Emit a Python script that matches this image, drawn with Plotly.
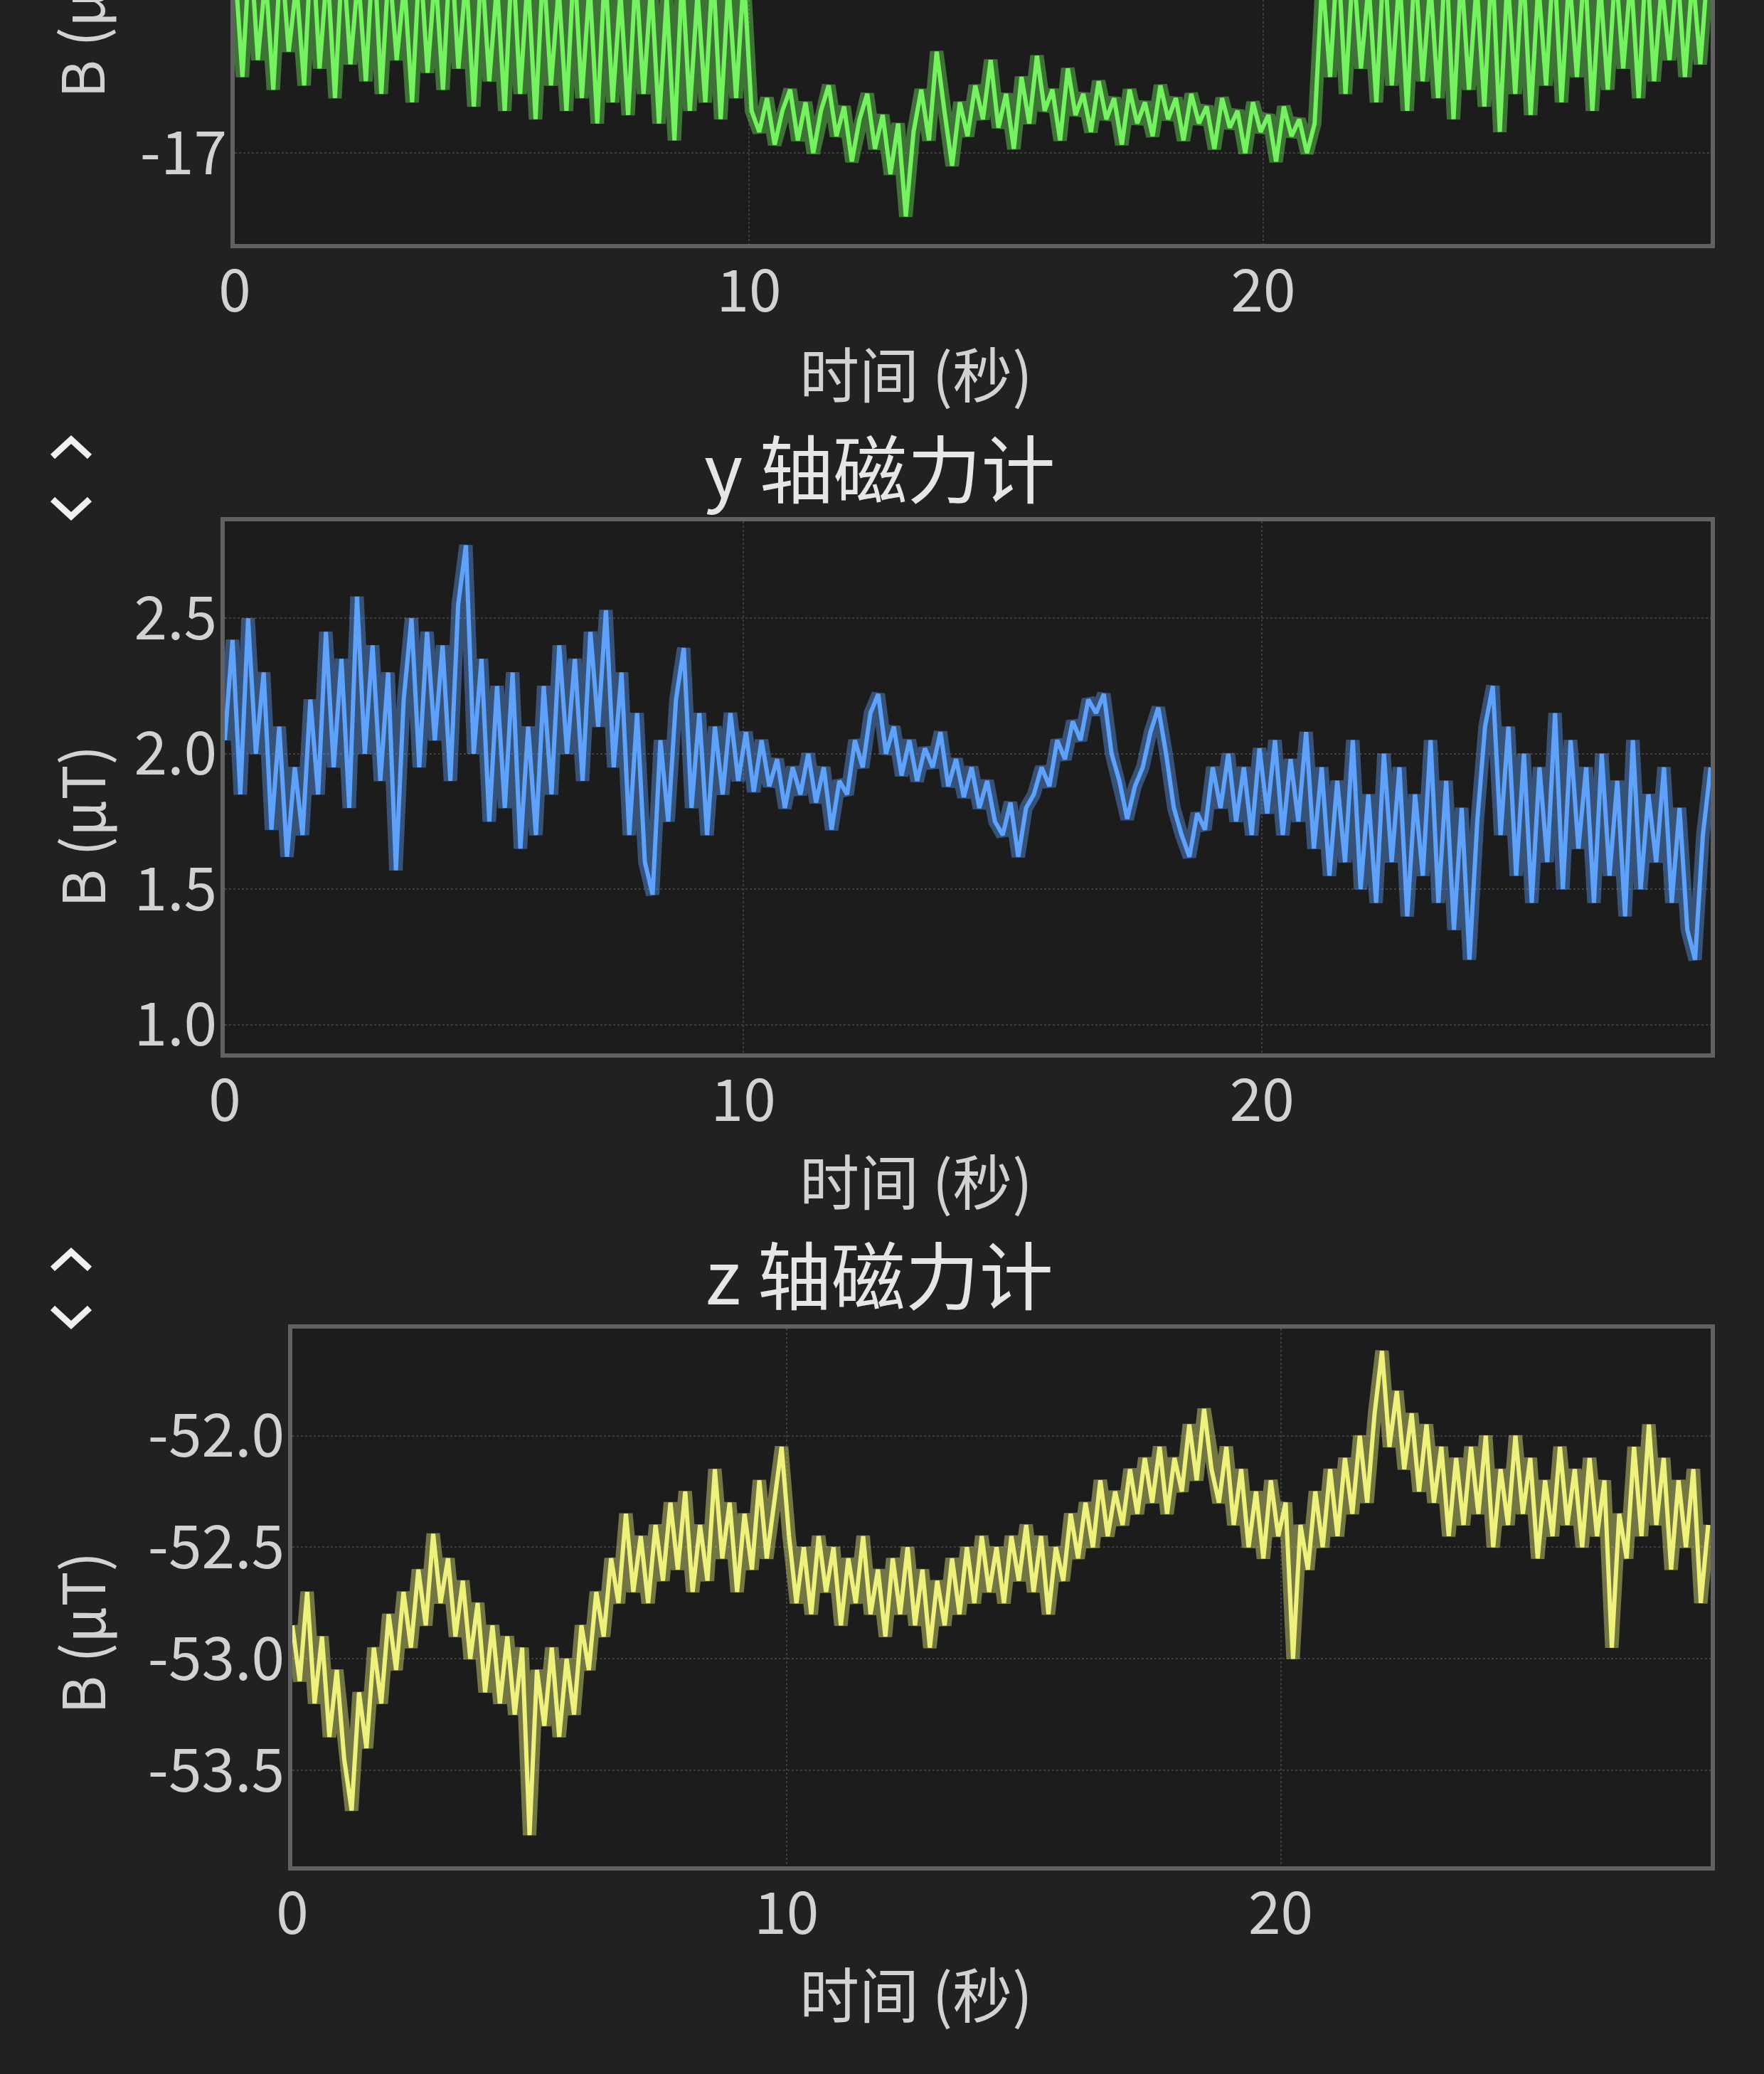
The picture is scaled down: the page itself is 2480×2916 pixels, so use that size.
import plotly.graph_objects as go

# ---------------- data ----------------
SAMPLE_INTERVAL = 0.15  # seconds between samples
N = 192
time_s = [round(i * SAMPLE_INTERVAL, 2) for i in range(N)]

bx_uT = [
    -16.55, -16.82, -16.50, -16.78, -16.58, -16.85, -16.52, -16.76, -16.60, -16.84,
    -16.48, -16.80, -16.56, -16.87, -16.52, -16.79, -16.58, -16.83, -16.50, -16.86,
    -16.55, -16.78, -16.60, -16.88, -16.53, -16.81, -16.57, -16.85, -16.50, -16.80,
    -16.58, -16.89, -16.55, -16.83, -16.60, -16.90, -16.52, -16.86, -16.58, -16.92,
    -16.55, -16.84, -16.61, -16.90, -16.54, -16.87, -16.60, -16.93, -16.56, -16.88,
    -16.62, -16.91, -16.57, -16.86, -16.60, -16.93, -16.63, -16.97, -16.58, -16.90,
    -16.62, -16.88, -16.56, -16.92, -16.60, -16.87, -16.58, -16.90, -16.95, -16.87,
    -16.98, -16.90, -16.85, -16.97, -16.88, -17.00, -16.90, -16.84, -16.96, -16.89,
    -17.02, -16.92, -16.86, -16.99, -16.91, -17.05, -16.93, -17.15, -16.95, -16.85,
    -16.97, -16.76, -16.90, -17.03, -16.88, -16.96, -16.84, -16.92, -16.78, -16.94,
    -16.86, -16.99, -16.82, -16.93, -16.77, -16.90, -16.85, -16.97, -16.80, -16.91,
    -16.86, -16.95, -16.83, -16.92, -16.87, -16.98, -16.85, -16.93, -16.88, -16.96,
    -16.84, -16.92, -16.87, -16.97, -16.86, -16.93, -16.89, -16.99, -16.87, -16.94,
    -16.90, -17.00, -16.88, -16.95, -16.91, -17.02, -16.89, -16.96, -16.92, -17.00,
    -16.93, -16.58, -16.82, -16.52, -16.86, -16.55, -16.80, -16.60, -16.88, -16.53,
    -16.84, -16.58, -16.90, -16.55, -16.83, -16.60, -16.87, -16.52, -16.92, -16.57,
    -16.85, -16.60, -16.89, -16.54, -16.95, -16.58, -16.86, -16.55, -16.91, -16.60,
    -16.84, -16.53, -16.88, -16.58, -16.82, -16.55, -16.90, -16.60, -16.85, -16.56,
    -16.80, -16.58, -16.87, -16.53, -16.83, -16.60, -16.78, -16.56, -16.82, -16.58,
    -16.79, -16.55,
]

by_uT = [
    2.05, 2.42, 1.85, 2.50, 2.00, 2.30, 1.72, 2.10, 1.62, 1.95,
    1.70, 2.20, 1.85, 2.45, 1.95, 2.35, 1.80, 2.58, 2.00, 2.40,
    1.90, 2.30, 1.57, 2.20, 2.50, 1.95, 2.45, 2.05, 2.40, 1.90,
    2.55, 2.77, 2.00, 2.35, 1.75, 2.25, 1.80, 2.30, 1.65, 2.10,
    1.70, 2.25, 1.85, 2.40, 2.00, 2.35, 1.90, 2.45, 2.10, 2.53,
    1.95, 2.30, 1.70, 2.15, 1.60, 1.48, 2.05, 1.75, 2.20, 2.39,
    1.80, 2.15, 1.70, 2.10, 1.85, 2.15, 1.90, 2.08, 1.86, 2.05,
    1.88, 1.98, 1.80, 1.95, 1.85, 2.00, 1.82, 1.95, 1.72, 1.90,
    1.85, 2.05, 1.95, 2.15, 2.22, 2.00, 2.10, 1.92, 2.05, 1.90,
    2.02, 1.95, 2.08, 1.88, 1.98, 1.84, 1.95, 1.80, 1.90, 1.75,
    1.70, 1.82, 1.62, 1.80, 1.85, 1.95, 1.88, 2.05, 1.98, 2.12,
    2.05, 2.20, 2.15, 2.22, 2.00, 1.90, 1.76, 1.88, 1.95, 2.08,
    2.17, 2.00, 1.80, 1.70, 1.62, 1.78, 1.72, 1.95, 1.80, 2.00,
    1.75, 1.95, 1.70, 2.02, 1.78, 2.05, 1.70, 1.98, 1.75, 2.08,
    1.65, 1.95, 1.55, 1.90, 1.60, 2.05, 1.50, 1.85, 1.45, 2.00,
    1.60, 1.95, 1.40, 1.85, 1.55, 2.05, 1.45, 1.90, 1.35, 1.80,
    1.24, 1.75, 2.10, 2.25, 1.70, 2.10, 1.55, 2.00, 1.45, 1.95,
    1.60, 2.15, 1.50, 2.05, 1.65, 1.95, 1.45, 2.00, 1.55, 1.90,
    1.40, 2.05, 1.50, 1.85, 1.60, 1.95, 1.45, 1.80, 1.35, 1.24,
    1.70, 1.95,
]

bz_uT = [
    -52.85, -53.10, -52.70, -53.20, -52.90, -53.35, -53.05, -53.45, -53.68, -53.15,
    -53.40, -52.95, -53.20, -52.80, -53.05, -52.70, -52.95, -52.60, -52.85, -52.44,
    -52.75, -52.55, -52.90, -52.65, -53.00, -52.75, -53.15, -52.85, -53.20, -52.90,
    -53.25, -52.95, -53.79, -53.05, -53.30, -52.95, -53.35, -53.00, -53.25, -52.85,
    -53.05, -52.70, -52.90, -52.55, -52.75, -52.35, -52.70, -52.45, -52.75, -52.40,
    -52.65, -52.30, -52.60, -52.25, -52.70, -52.40, -52.65, -52.15, -52.55, -52.30,
    -52.70, -52.35, -52.60, -52.20, -52.55, -52.30, -52.05, -52.45, -52.75, -52.50,
    -52.80, -52.45, -52.70, -52.50, -52.85, -52.55, -52.75, -52.45, -52.80, -52.60,
    -52.90, -52.55, -52.80, -52.50, -52.85, -52.60, -52.95, -52.65, -52.85, -52.55,
    -52.80, -52.50, -52.75, -52.45, -52.70, -52.50, -52.75, -52.45, -52.65, -52.40,
    -52.70, -52.45, -52.80, -52.50, -52.65, -52.35, -52.55, -52.30, -52.50, -52.20,
    -52.45, -52.25, -52.40, -52.15, -52.35, -52.10, -52.30, -52.05, -52.35, -52.10,
    -52.25, -51.95, -52.20, -51.88, -52.15, -52.30, -52.05, -52.40, -52.15, -52.50,
    -52.25, -52.55, -52.20, -52.45, -52.30, -53.00, -52.40, -52.60, -52.25, -52.50,
    -52.15, -52.45, -52.10, -52.35, -52.00, -52.30, -51.90, -51.62, -52.05, -51.80,
    -52.15, -51.90, -52.25, -51.95, -52.30, -52.05, -52.45, -52.10, -52.40, -52.05,
    -52.35, -52.00, -52.50, -52.15, -52.40, -52.00, -52.35, -52.10, -52.55, -52.20,
    -52.45, -52.05, -52.40, -52.15, -52.50, -52.10, -52.45, -52.20, -52.95, -52.35,
    -52.55, -52.05, -52.45, -51.95, -52.40, -52.10, -52.60, -52.20, -52.50, -52.15,
    -52.75, -52.40,
]

panel_titles = ["y 轴磁力计", "z 轴磁力计"]   # the x panel's title is scrolled out of view
x_title = "时间 (秒)"
y_title = "B (µT)"
x_tick_vals = [0, 10, 20]
x_tick_text = ["0", "10", "20"]
y_tick_vals = [[-17.0], [1.0, 1.5, 2.0, 2.5], [-53.5, -53.0, -52.5, -52.0]]
y_tick_text = [["-17"], ["1.0", "1.5", "2.0", "2.5"], ["-53.5", "-53.0", "-52.5", "-52.0"]]

# ---------------- layout helpers ----------------
W, H = 2480, 2916


def px(x):
    return x / W


def py(y):
    return 1 - y / H


FONT = "Noto Sans CJK SC, Noto Sans, sans-serif"
BG = "#212121"
PLOT_BG = "#1c1c1c"
BORDER = "#616161"
GRID = "#3e3e3e"
TICK_COLOR = "#d2d2d2"
TEXT_COLOR = "#e6e6e6"
colors = ["#74f260", "#5ea2fb", "#eef27c"]
glow = ["rgba(110,235,90,0.42)", "rgba(90,158,250,0.42)", "rgba(236,240,120,0.42)"]

# plot rectangles in pixels: left, top, right, bottom
rects = [
    (330, 0, 2405, 343),
    (316, 733, 2405, 1481),
    (411, 1868, 2405, 2624),
]
x_ranges = [[0, 28.7], [0, 28.65], [0, 28.7]]
y_ranges = [[-17.215, -16.638], [0.894, 2.858], [-53.93, -51.52]]

fig = go.Figure()
series = [bx_uT, by_uT, bz_uT]
for k, vals in enumerate(series):
    suffix = "" if k == 0 else str(k + 1)
    fig.add_trace(go.Scatter(
        x=time_s, y=vals, mode="lines",
        line=dict(color=glow[k], width=19),
        xaxis="x" + suffix, yaxis="y" + suffix,
        showlegend=False, hoverinfo="skip",
    ))
    fig.add_trace(go.Scatter(
        x=time_s, y=vals, mode="lines",
        line=dict(color=colors[k], width=6),
        xaxis="x" + suffix, yaxis="y" + suffix,
        showlegend=False, hoverinfo="skip",
    ))

layout = dict(
    width=W, height=H,
    margin=dict(l=0, r=0, t=0, b=0, autoexpand=False),
    paper_bgcolor=BG, plot_bgcolor=PLOT_BG,
    font=dict(family=FONT, color=TICK_COLOR, size=82),
    showlegend=False,
)

for k, (l, t, r, b) in enumerate(rects):
    suffix = "" if k == 0 else str(k + 1)
    xa = dict(
        domain=[px(l), px(r)], range=x_ranges[k], anchor="y" + suffix,
        tickvals=x_tick_vals, ticktext=x_tick_text, automargin=False,
        showgrid=True, gridcolor=GRID, gridwidth=2,
        griddash="dot", zeroline=False, showline=True, linecolor=BORDER,
        linewidth=6, mirror=(k != 0), ticks="", ticklabelstandoff=-9,
        tickfont=dict(size=82, color=TICK_COLOR, family=FONT),
    )
    ya = dict(
        domain=[py(b), py(t)], range=y_ranges[k], anchor="x" + suffix,
        tickvals=y_tick_vals[k], ticktext=y_tick_text[k], automargin=False,
        showgrid=True, gridcolor=GRID, gridwidth=2,
        griddash="dot", zeroline=False, showline=True, linecolor=BORDER,
        linewidth=6, mirror=True, ticks="", ticklabelstandoff=-12,
        tickfont=dict(size=84, color=TICK_COLOR, family=FONT),
    )
    layout["xaxis" + suffix] = xa
    layout["yaxis" + suffix] = ya

annotations = []
title_pos = [(1236, 654), (1236, 1788)]
for k, (cx, cy) in enumerate(title_pos):
    annotations.append(dict(
        text=panel_titles[k], x=px(cx), y=py(cy), xref="paper", yref="paper",
        showarrow=False, xanchor="center", yanchor="middle",
        font=dict(size=104, color=TEXT_COLOR, family=FONT),
    ))
for cy in [522, 1658, 2800]:
    annotations.append(dict(
        text=x_title, x=px(1288), y=py(cy), xref="paper", yref="paper",
        showarrow=False, xanchor="center", yanchor="middle",
        font=dict(size=84, color=TICK_COLOR, family=FONT),
    ))
for cy in [24, 1162, 2296]:
    annotations.append(dict(
        text=y_title, x=px(112), y=py(cy), xref="paper", yref="paper",
        showarrow=False, xanchor="center", yanchor="middle", textangle=-90,
        font=dict(size=82, color=TICK_COLOR, family=FONT),
    ))
layout["annotations"] = annotations

# collapse / expand chevrons at the left of each panel header
shapes = []
for cy_up, cy_down in [(630, 714), (1772, 1851)]:
    shapes.append(dict(
        type="path", xref="paper", yref="paper",
        path=f"M {px(74)} {py(cy_up + 12)} L {px(100)} {py(cy_up - 12)} L {px(126)} {py(cy_up + 12)}",
        line=dict(color="#f0f0f0", width=9),
    ))
    shapes.append(dict(
        type="path", xref="paper", yref="paper",
        path=f"M {px(74)} {py(cy_down - 12)} L {px(100)} {py(cy_down + 12)} L {px(126)} {py(cy_down - 12)}",
        line=dict(color="#f0f0f0", width=9),
    ))
layout["shapes"] = shapes

fig.update_layout(**layout)
fig.write_html(
    "out.html",
    config={"displayModeBar": False},
    post_script="document.body.style.margin='0';document.body.style.background='#212121';",
)
